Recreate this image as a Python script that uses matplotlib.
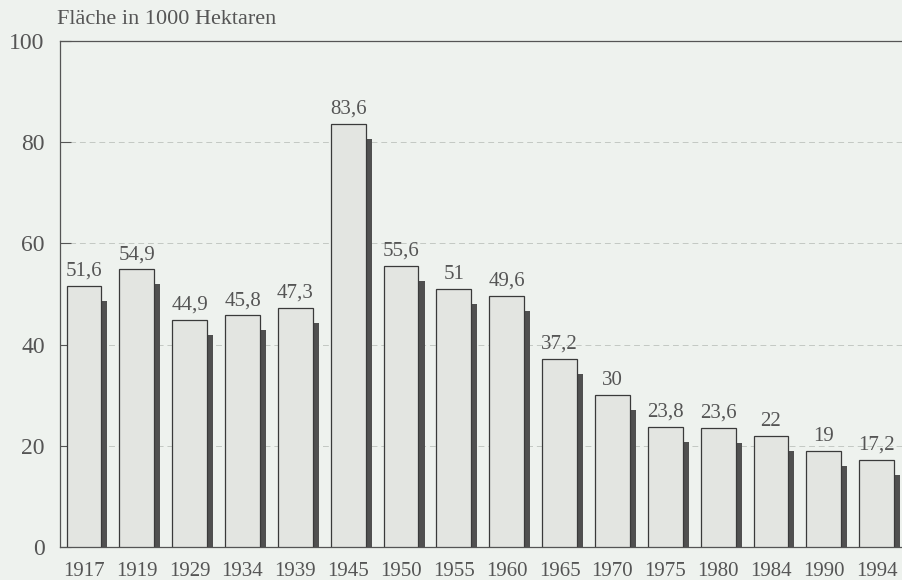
import matplotlib.pyplot as plt
import numpy as np

jahre = ['1917', '1919', '1929', '1934', '1939', '1945', '1950', '1955',
         '1960', '1965', '1970', '1975', '1980', '1984', '1990', '1994']
flaeche = [51.6, 54.9, 44.9, 45.8, 47.3, 83.6, 55.6, 51, 49.6, 37.2,
           30, 23.8, 23.6, 22, 19, 17.2]
beschriftung = ['51,6', '54,9', '44,9', '45,8', '47,3', '83,6', '55,6', '51',
                '49,6', '37,2', '30', '23,8', '23,6', '22', '19', '17,2']

plt.rcParams['font.family'] = ['Liberation Serif', 'DejaVu Serif']

hintergrund = '#eef2ee'
textfarbe = '#555555'

fig = plt.figure(figsize=(9.02, 5.80), dpi=100, facecolor=hintergrund)
ax = fig.add_axes([0.0665, 0.0569, 0.9335, 0.8724])
ax.set_facecolor(hintergrund)

x = np.arange(len(jahre))
breite = 0.66
schatten = 0.115

# Schatten rechts, etwas tiefer
ax.bar(x + breite / 2 + schatten / 2, np.array(flaeche) - 3.0, width=schatten,
       color='#505050', linewidth=0, zorder=2)
ax.bar(x, flaeche, width=breite, color='#e3e5e1', edgecolor='#3a3a3a',
       linewidth=0.9, zorder=3)

for xi, v, t in zip(x, flaeche, beschriftung):
    ax.text(xi, v + 1.0, t, ha='center', va='bottom', fontsize=15,
            color=textfarbe)

ax.set_xlim(-0.454, 15.48)
ax.set_ylim(0, 100)
ax.set_yticks([0, 20, 40, 60, 80, 100])
ax.set_xticks(x)
ax.set_xticklabels(jahre, fontsize=15)

for g in [20, 40, 60, 80]:
    ax.axhline(g, color='#c3c8c3', lw=0.7, ls=(0, (6, 4)), zorder=1)

ax.tick_params(axis='both', direction='in', labelcolor=textfarbe,
               color='#555555', width=0.8)
ax.tick_params(axis='y', length=8, pad=11, labelsize=17)
ax.tick_params(axis='x', length=7, pad=11)

for s in ['left', 'bottom', 'top']:
    ax.spines[s].set_color('#555555')
    ax.spines[s].set_linewidth(0.9)
ax.spines['right'].set_visible(False)

fig.text(57 / 902, 1 - 20 / 580, 'Fläche in 1000 Hektaren', ha='left',
         va='center', fontsize=16, color=textfarbe)

fig.savefig('out.png', dpi=100, facecolor=hintergrund)
